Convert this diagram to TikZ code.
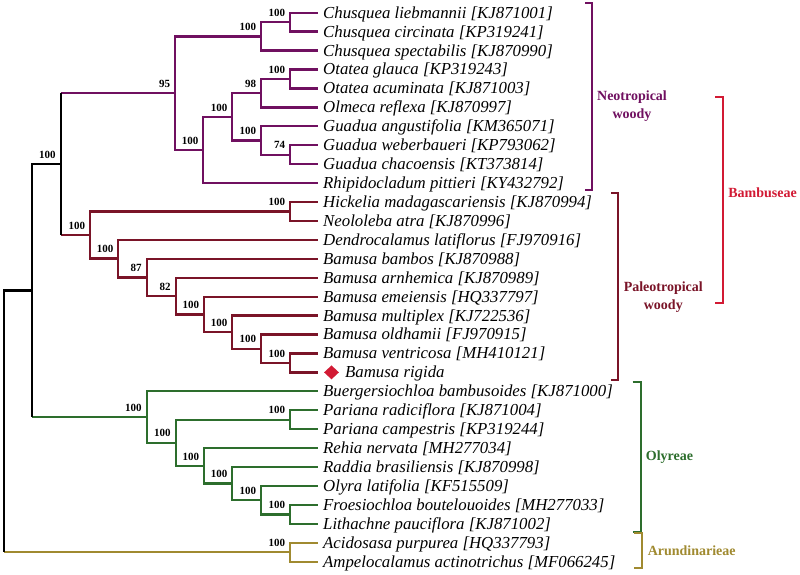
\documentclass[tikz,border=0pt]{standalone}
\usepackage{fontspec}
\setmainfont{Liberation Serif}
\usetikzlibrary{calc,shapes.geometric}
\definecolor{neoc}{HTML}{701060}
\definecolor{palc}{HTML}{7A1428}
\definecolor{bamc}{HTML}{D21A34}
\definecolor{olyc}{HTML}{2D6E2D}
\definecolor{aruc}{HTML}{A08A30}
\tikzset{
  br/.style={line width=2.3pt},
  neo/.style={br, draw=neoc},
  pal/.style={br, draw=palc},
  oly/.style={br, draw=olyc},
  aru/.style={br, draw=aruc},
  blk/.style={br, draw=black},
  bs/.style={font=\fontsize{11}{12}\selectfont\bfseries, inner sep=0pt, anchor=base east},
  taxon/.style={font=\fontsize{16.8}{18}\selectfont\itshape, inner sep=0pt, anchor=base west},
  clade/.style={font=\fontsize{14}{17.7}\selectfont\bfseries, inner sep=0pt, align=center},
}
\begin{document}
\begin{tikzpicture}[x=1pt,y=-1pt]
\fill[white] (0,0) rectangle (800,574);
\useasboundingbox (0,0) rectangle (800,574);
% leaves
\foreach \i/\y in {0/12.7,1/31.63,2/50.56,3/69.49,4/88.42,5/107.35,6/126.28,7/145.21,8/164.14,9/183.07,10/202.0,11/220.93,12/239.86,13/258.79,14/277.72,15/296.65,16/315.58,17/334.51,18/353.44,19/372.37,20/391.3,21/410.23,22/429.16,23/448.09,24/467.02,25/485.95,26/504.88,27/523.81,28/542.74,29/561.67}
  \coordinate (l\i) at (318,\y);
% internal nodes
\coordinate (nch2) at (290,22.17);
\coordinate (nch) at (261,36.36);
\coordinate (not2) at (290,78.96);
\coordinate (not) at (261,93.15);
\coordinate (ngu2) at (290,154.68);
\coordinate (ngu) at (261,140.48);
\coordinate (nog) at (232.3,116.8);
\coordinate (nogr) at (203.3,149.9);
\coordinate (nneo) at (175,93.13);
\coordinate (nhn) at (290,211.47);
\coordinate (nvr) at (290,362.9);
\coordinate (nol) at (261,348.7);
\coordinate (nmu) at (232.3,332.14);
\coordinate (nem) at (204,314.4);
\coordinate (nar) at (175.7,296.06);
\coordinate (nbb) at (146.7,277.43);
\coordinate (nde) at (118.3,258.64);
\coordinate (npal) at (90,235.06);
\coordinate (nbam) at (60.7,164.1);
\coordinate (npa) at (290,419.7);
\coordinate (nfl) at (290,514.35);
\coordinate (noly) at (261,500.15);
\coordinate (nra) at (232.3,483.59);
\coordinate (nre) at (204,465.84);
\coordinate (npr) at (175.7,442.77);
\coordinate (noy) at (146.7,417.04);
\coordinate (nA) at (32,290.57);
\coordinate (nad) at (290,552.2);
\coordinate (nroot) at (4,421.4);
% Neotropical
\draw[neo] (nch2) |- (l0); \draw[neo] (nch2) |- (l1);
\draw[neo] (nch) |- (nch2); \draw[neo] (nch) |- (l2);
\draw[neo] (not2) |- (l3); \draw[neo] (not2) |- (l4);
\draw[neo] (not) |- (not2); \draw[neo] (not) |- (l5);
\draw[neo] (ngu2) |- (l7); \draw[neo] (ngu2) |- (l8);
\draw[neo] (ngu) |- (l6); \draw[neo] (ngu) |- (ngu2);
\draw[neo] (nog) |- (not); \draw[neo] (nog) |- (ngu);
\draw[neo] (nogr) |- (nog); \draw[neo] (nogr) |- (l9);
\draw[neo] (nneo) |- (nch); \draw[neo] (nneo) |- (nogr);
% Paleotropical
\draw[pal] (nhn) |- (l10); \draw[pal] (nhn) |- (l11);
\draw[pal] (nvr) |- (l18); \draw[pal] (nvr) |- (l19);
\draw[pal] (nol) |- (l17); \draw[pal] (nol) |- (nvr);
\draw[pal] (nmu) |- (l16); \draw[pal] (nmu) |- (nol);
\draw[pal] (nem) |- (l15); \draw[pal] (nem) |- (nmu);
\draw[pal] (nar) |- (l14); \draw[pal] (nar) |- (nem);
\draw[pal] (nbb) |- (l13); \draw[pal] (nbb) |- (nar);
\draw[pal] (nde) |- (l12); \draw[pal] (nde) |- (nbb);
\draw[pal] (npal) |- (nhn); \draw[pal] (npal) |- (nde);
% Olyreae
\draw[oly] (npa) |- (l21); \draw[oly] (npa) |- (l22);
\draw[oly] (nfl) |- (l26); \draw[oly] (nfl) |- (l27);
\draw[oly] (noly) |- (l25); \draw[oly] (noly) |- (nfl);
\draw[oly] (nra) |- (l24); \draw[oly] (nra) |- (noly);
\draw[oly] (nre) |- (l23); \draw[oly] (nre) |- (nra);
\draw[oly] (npr) |- (npa); \draw[oly] (npr) |- (nre);
\draw[oly] (noy) |- (l20); \draw[oly] (noy) |- (npr);
% Arundinarieae
\draw[aru] (nad) |- (l28); \draw[aru] (nad) |- (l29);
% backbone
\draw[neo] (nbam |- nneo) -- (nneo);
\draw[pal] (nbam |- npal) -- (npal);
\draw[blk] (nbam |- nneo) -- (nbam |- npal);
\draw[oly] (nA |- noy) -- (noy);
\draw[blk] (nA) |- (nbam);
\draw[blk] (nA |- nbam) -- (nA |- noy);
\draw[aru] (nroot |- nad) -- (nad);
\draw[blk] (nroot) |- (nA);
\draw[blk] (nroot |- nA) -- (nroot |- nad);
% support values
\foreach \n/\v in {nch2/100,nch/100,not2/100,not/98,ngu2/74,ngu/100,nog/100,nogr/100,nneo/95,nhn/100,nvr/100,nol/100,nmu/100,nem/100,nar/82,nbb/87,nde/100,npal/100,nbam/100,npa/100,nfl/100,noly/100,nra/100,nre/100,npr/100,noy/100,nad/100}
  \node[bs] (s\n) at ($(\n)+(-4.8,-5.8)$) {\v};
% taxon labels
\node[taxon] (t0) at ($(l0)+(5,5.45)$) {Chusquea liebmannii [KJ871001]};
\node[taxon] (t1) at ($(l1)+(5,5.45)$) {Chusquea circinata [KP319241]};
\node[taxon] (t2) at ($(l2)+(5,5.45)$) {Chusquea spectabilis [KJ870990]};
\node[taxon] (t3) at ($(l3)+(5,5.45)$) {Otatea glauca [KP319243]};
\node[taxon] (t4) at ($(l4)+(5,5.45)$) {Otatea acuminata [KJ871003]};
\node[taxon] (t5) at ($(l5)+(5,5.45)$) {Olmeca reflexa [KJ870997]};
\node[taxon] (t6) at ($(l6)+(5,5.45)$) {Guadua angustifolia [KM365071]};
\node[taxon] (t7) at ($(l7)+(5,5.45)$) {Guadua weberbaueri [KP793062]};
\node[taxon] (t8) at ($(l8)+(5,5.45)$) {Guadua chacoensis [KT373814]};
\node[taxon] (t9) at ($(l9)+(5,5.45)$) {Rhipidocladum pittieri [KY432792]};
\node[taxon] (t10) at ($(l10)+(5,5.45)$) {Hickelia madagascariensis [KJ870994]};
\node[taxon] (t11) at ($(l11)+(5,5.45)$) {Neololeba atra [KJ870996]};
\node[taxon] (t12) at ($(l12)+(5,5.45)$) {Dendrocalamus latiflorus [FJ970916]};
\node[taxon] (t13) at ($(l13)+(5,5.45)$) {Bamusa bambos [KJ870988]};
\node[taxon] (t14) at ($(l14)+(5,5.45)$) {Bamusa arnhemica [KJ870989]};
\node[taxon] (t15) at ($(l15)+(5,5.45)$) {Bamusa emeiensis [HQ337797]};
\node[taxon] (t16) at ($(l16)+(5,5.45)$) {Bamusa multiplex [KJ722536]};
\node[taxon] (t17) at ($(l17)+(5,5.45)$) {Bamusa oldhamii [FJ970915]};
\node[taxon] (t18) at ($(l18)+(5,5.45)$) {Bamusa ventricosa [MH410121]};
\node[diamond, fill=bamc, inner sep=0pt, minimum width=15pt, minimum height=14pt] (dm) at ($(l19)+(13.5,0)$) {};
\node[taxon] (t19) at ($(l19)+(27,5.45)$) {Bamusa rigida};
\node[taxon] (t20) at ($(l20)+(5,5.45)$) {Buergersiochloa bambusoides [KJ871000]};
\node[taxon] (t21) at ($(l21)+(5,5.45)$) {Pariana radiciflora [KJ871004]};
\node[taxon] (t22) at ($(l22)+(5,5.45)$) {Pariana campestris [KP319244]};
\node[taxon] (t23) at ($(l23)+(5,5.45)$) {Rehia nervata [MH277034]};
\node[taxon] (t24) at ($(l24)+(5,5.45)$) {Raddia brasiliensis [KJ870998]};
\node[taxon] (t25) at ($(l25)+(5,5.45)$) {Olyra latifolia [KF515509]};
\node[taxon] (t26) at ($(l26)+(5,5.45)$) {Froesiochloa boutelouoides [MH277033]};
\node[taxon] (t27) at ($(l27)+(5,5.45)$) {Lithachne pauciflora [KJ871002]};
\node[taxon] (t28) at ($(l28)+(5,5.45)$) {Acidosasa purpurea [HQ337793]};
\node[taxon] (t29) at ($(l29)+(5,5.45)$) {Ampelocalamus actinotrichus [MF066245]};
% brackets
\draw[br, draw=neoc] (585,3.3) -- (591.7,3.3) -- (591.7,190) -- (585,190);
\draw[br, draw=palc] (611,193.3) -- (618.3,193.3) -- (618.3,380) -- (611,380);
\draw[br, draw=bamc] (715,97.3) -- (723.3,97.3) -- (723.3,302.7) -- (715,302.7);
\draw[br, draw=olyc] (632.7,382.3) -- (640.7,382.3) -- (640.7,531.7) -- (632.7,531.7);
\draw[br, draw=aruc] (634.3,532.8) -- (642.3,532.8) -- (642.3,568.3) -- (634.3,568.3);
% clade labels
\node[clade, text=neoc] (cneo) at (632,106.2) {Neotropical\\woody};
\node[clade, text=palc] (cpal) at (663.3,297.2) {Paleotropical\\woody};
\node[clade, text=bamc] (cbam) at (762.5,192.7) {Bambuseae};
\node[clade, text=olyc] (coly) at (669.5,456.7) {Olyreae};
\node[clade, text=aruc] (caru) at (691.7,551) {Arundinarieae};
\end{tikzpicture}
\end{document}
